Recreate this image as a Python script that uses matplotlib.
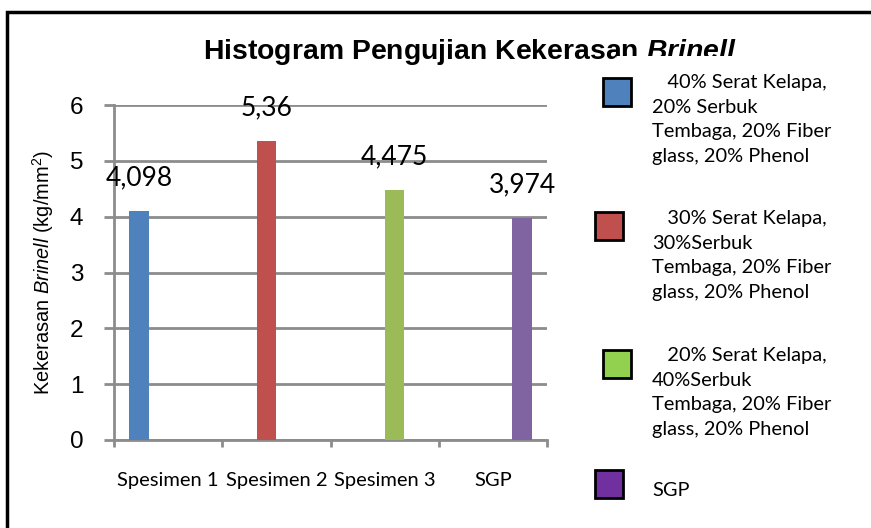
import matplotlib
matplotlib.use('Agg')
import matplotlib.pyplot as plt
from matplotlib.patches import Rectangle

# data
categories = ['Spesimen 1', 'Spesimen 2', 'Spesimen 3', 'SGP']
hardness = [4.098, 5.36, 4.475, 3.974]
value_labels = ['4,098', '5,36', '4,475', '3,974']
series_names = ['   40% Serat Kelapa,\n20% Serbuk\nTembaga, 20% Fiber\nglass, 20% Phenol',
                '   30% Serat Kelapa,\n30%Serbuk\nTembaga, 20% Fiber\nglass, 20% Phenol',
                '   20% Serat Kelapa,\n40%Serbuk\nTembaga, 20% Fiber\nglass, 20% Phenol',
                'SGP']
bar_colors = ['#4F81BD', '#C0504D', '#9BBB59', '#8064A2']
legend_colors = ['#4F81BD', '#C0504D', '#92D050', '#7030A0']
y_ticks = [0, 1, 2, 3, 4, 5, 6]

W, H = 871, 528
BODY_FONT = 'Lato'
GRID_GRAY = '#8C8C8C'

plt.rcParams['mathtext.fontset'] = 'custom'
plt.rcParams['mathtext.rm'] = 'Liberation Sans'
plt.rcParams['mathtext.it'] = 'Liberation Sans:italic'
plt.rcParams['mathtext.bf'] = 'Liberation Sans:bold'
plt.rcParams['mathtext.bfit'] = 'Liberation Sans:bold:italic'


def fx(x):
    return x / W


def fy(y):
    return 1 - y / H


fig = plt.figure(figsize=(W / 100, H / 100), dpi=100)
ax = fig.add_axes([fx(114), fy(440), (547 - 114) / W, (440 - 105) / H])

bar_width = 0.18
for i, value in enumerate(hardness):
    x = i + (i - 1.5) * bar_width
    ax.bar(x, value, width=bar_width, color=bar_colors[i], zorder=3)
    ax.annotate(value_labels[i], (x, value), xytext=(0, 15), textcoords='offset points',
                ha='center', va='bottom', fontsize=19, family=BODY_FONT, color='black')

ax.set_xlim(-0.5, 3.5)
ax.set_ylim(0, 6)
ax.set_yticks(y_ticks)
ax.set_yticklabels([str(t) for t in y_ticks], fontsize=17.5, family='Liberation Sans')
ax.set_xticks([i for i in range(len(categories))])
ax.set_xticklabels(categories, fontsize=14.5, family=BODY_FONT)
ax.set_xticks([i - 0.5 for i in range(len(categories) + 1)], minor=True)
ax.tick_params(axis='x', which='major', length=0, pad=23)
ax.tick_params(axis='x', which='minor', length=5, width=2, color=GRID_GRAY)
ax.tick_params(axis='y', length=7, width=2, color=GRID_GRAY, pad=15)
ax.yaxis.grid(True, color=GRID_GRAY, linewidth=2, zorder=0)
for side in ['top', 'right']:
    ax.spines[side].set_visible(False)
for side in ['left', 'bottom']:
    ax.spines[side].set_color(GRID_GRAY)
    ax.spines[side].set_linewidth(2)
ax.set_ylabel(r'Kekerasan $\mathit{Brinell}$ (kg/mm$^2$)', fontsize=14.4, family='Liberation Sans', labelpad=10)

# title, partly hidden behind the legend area like the original
fig.text(fx(470), fy(59), 'Histogram Pengujian Kekerasan $\\mathbfit{Brinell}$',
         ha='center', va='baseline', fontsize=20.4, fontweight='bold', family='Liberation Sans', zorder=1)
fig.patches.append(Rectangle((fx(617), 0), 1, fy(56), transform=fig.transFigure,
                             facecolor='white', edgecolor='none', zorder=2))

# legend drawn by hand
box_pos = [(603, 78), (595, 212), (603, 350), (595, 470)]
text_top = [82, 218, 355, 490]
for i, name in enumerate(series_names):
    bx, by = box_pos[i]
    fig.patches.append(Rectangle((fx(bx), fy(by + 28)), 28 / W, 28 / H, transform=fig.transFigure,
                                 facecolor=legend_colors[i], edgecolor='black', linewidth=2, zorder=3))
    fig.text(fx(652), fy(text_top[i] - 8), name, ha='left', va='top', fontsize=14.4,
             family=BODY_FONT, linespacing=1.54, zorder=3)

# outer frame
fig.patches.append(Rectangle((fx(7), -0.1), 1.2, fy(12) + 0.1, transform=fig.transFigure,
                             facecolor='none', edgecolor='black', linewidth=2.5, zorder=4))

fig.savefig('out.png', dpi=100)
